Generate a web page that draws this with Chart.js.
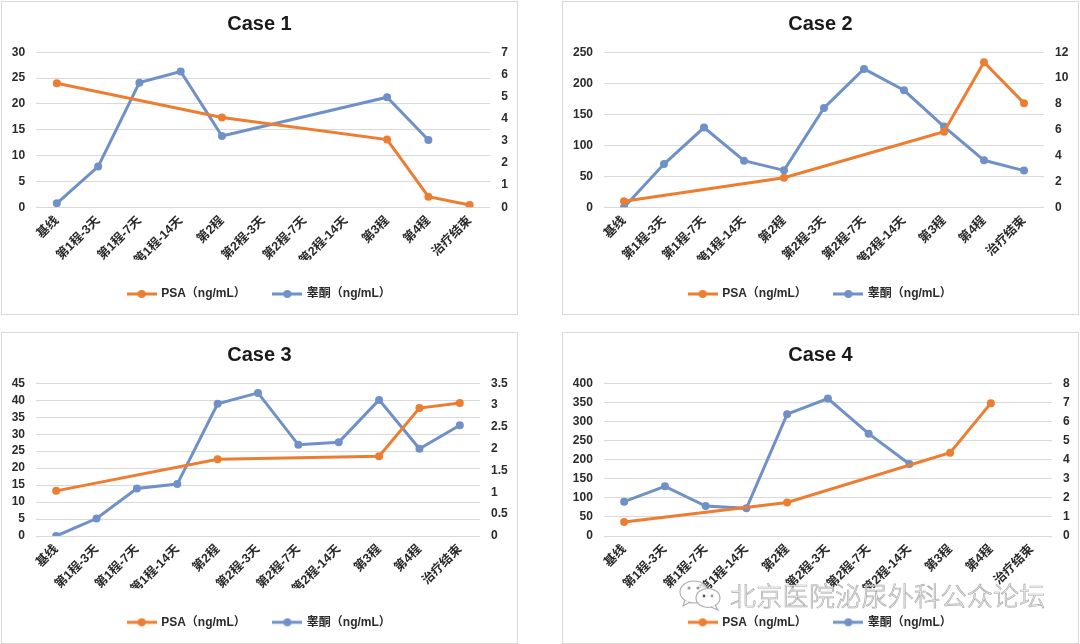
<!DOCTYPE html>
<html><head><meta charset="utf-8">
<script src="https://cdn.jsdelivr.net/npm/chart.js@4.4.0/dist/chart.umd.min.js"></script>
<style>
html,body{margin:0;padding:0;background:#fff;width:1080px;height:644px;overflow:hidden;}
.panel{position:absolute;box-sizing:border-box;border:1px solid #dcd8d8;background:#fff;}
.panel canvas{display:block;}
#wm{position:absolute;left:678px;top:578px;height:34px;white-space:nowrap;pointer-events:none;}
#wm svg{position:absolute;left:0;top:1px;}
#wm span{position:absolute;left:52px;top:0;font-family:"Noto Sans CJK SC",sans-serif;font-weight:300;font-size:26px;line-height:34px;color:rgba(255,255,255,0.8);-webkit-text-stroke:0.7px #aaaaaa;letter-spacing:0.3px;}
</style></head><body>
<div class="panel" style="left:1px;top:1px;width:517px;height:314px"><canvas id="c1" width="515" height="312"></canvas></div>
<div class="panel" style="left:562px;top:1px;width:517px;height:314px"><canvas id="c2" width="515" height="312"></canvas></div>
<div class="panel" style="left:1px;top:332px;width:517px;height:312px"><canvas id="c3" width="515" height="310"></canvas></div>
<div class="panel" style="left:562px;top:332px;width:517px;height:312px"><canvas id="c4" width="515" height="310"></canvas></div>
<div id="wm">
<svg width="46" height="32" viewBox="0 0 46 32">
<ellipse cx="16" cy="13" rx="14" ry="11" fill="rgba(255,255,255,0.8)" stroke="#ababab" stroke-width="1.1"/>
<path d="M7 21 L5 27 L12 23" fill="rgba(255,255,255,0.8)" stroke="#ababab" stroke-width="1.1"/>
<ellipse cx="30" cy="19" rx="12" ry="9.5" fill="rgba(255,255,255,0.85)" stroke="#ababab" stroke-width="1.1"/>
<path d="M37 26 L40 31 L33 28" fill="rgba(255,255,255,0.85)" stroke="#ababab" stroke-width="1.1"/>
<circle cx="11" cy="9" r="1.6" fill="#999"/><circle cx="20" cy="9" r="1.6" fill="#999"/>
<circle cx="26" cy="17" r="1.4" fill="#555"/><circle cx="34" cy="17" r="1.4" fill="#999"/>
</svg>
<span>北京医院泌尿外科公众论坛</span>
</div>
<script>
const categories = ['基线','第1程-3天','第1程-7天','第1程-14天','第2程','第2程-3天','第2程-7天','第2程-14天','第3程','第4程','治疗结束'];
const seriesNames = ['PSA（ng/mL）','睾酮（ng/mL）'];
const titles = ['Case 1','Case 2','Case 3','Case 4'];

const case1PSA = [24, null, null, null, 17.4, null, null, null, 13.1, 2.06, 0.45];
const case1T   = [0.18, 1.84, 5.63, 6.13, 3.22, null, null, null, 4.97, 3.04, null];
const case2PSA = [9.7, null, null, null, 47.8, null, null, null, 122, 234, 168];
const case2T   = [0, 3.35, 6.17, 3.61, 2.86, 7.69, 10.71, 9.06, 6.25, 3.64, 2.84];
const case3PSA = [13.3, null, null, null, 22.6, null, null, null, 23.5, 37.7, 39.2];
const case3T   = [0, 0.40, 1.09, 1.19, 3.03, 3.28, 2.09, 2.15, 3.12, 2.00, 2.54];
const case4PSA = [36.7, null, null, null, 88, null, null, null, 218, 348, null];
const case4T   = [1.80, 2.60, 1.57, 1.45, 6.38, 7.20, 5.36, 3.77, null, null, null];

const leftAxes  = [{max:30, step:5}, {max:250, step:50}, {max:45, step:5}, {max:400, step:50}];
const rightAxes = [{max:7, step:1}, {max:12, step:2}, {max:3.5, step:0.5}, {max:8, step:1}];

const ORANGE = '#ED7D31';
const BLUE = '#6F91C8';
const FONT = '"Liberation Sans", Arial, "Noto Sans CJK SC", sans-serif';
const TXT = '#2b2b2b';

function legendImg(color){
  const c = document.createElement('canvas');
  c.width = 30; c.height = 10;
  const g = c.getContext('2d');
  g.strokeStyle = color; g.lineWidth = 3;
  g.beginPath(); g.moveTo(0,5); g.lineTo(30,5); g.stroke();
  g.fillStyle = color; g.beginPath(); g.arc(15,5,4,0,Math.PI*2); g.fill();
  return c;
}
const legendImgs = [legendImg(ORANGE), legendImg(BLUE)];

function makeChart(id, psa, t, la, ra, lay){
  new Chart(document.getElementById(id), {
    type: 'line',
    data: {
      labels: categories,
      datasets: [
        {label: seriesNames[0], data: psa, yAxisID: 'y', borderColor: ORANGE, backgroundColor: ORANGE,
         borderWidth: 3, pointRadius: 4, pointHoverRadius: 4, pointBackgroundColor: ORANGE, pointBorderWidth: 0,
         spanGaps: true, tension: 0},
        {label: seriesNames[1], data: t, yAxisID: 'y1', borderColor: BLUE, backgroundColor: BLUE,
         borderWidth: 3, pointRadius: 4, pointHoverRadius: 4, pointBackgroundColor: BLUE, pointBorderWidth: 0,
         spanGaps: true, tension: 0}
      ]
    },
    options: {
      responsive: false, animation: false,
      layout: {padding: {left: 0, right: 0, top: 0, bottom: lay.padB}},
      plugins: {
        title: {display: true, text: lay.title, color: '#1a1a1a',
                font: {family: FONT, size: 20, weight: 'bold'}, padding: {top: 10, bottom: 16.3}},
        legend: {position: 'bottom',
          labels: {usePointStyle: true, pointStyleWidth: 27, boxHeight: 12, padding: 28, color: TXT,
                   font: {family: FONT, size: 12, weight: 'bold'},
                   generateLabels: (chart) => Chart.defaults.plugins.legend.labels.generateLabels(chart)
                     .map((it, i) => Object.assign(it, {pointStyle: legendImgs[i]}))}},
        tooltip: {enabled: false}
      },
      scales: {
        x: {offset: true, grid: {display: false, drawTicks: false}, border: {display: false},
            ticks: {autoSkip: false, minRotation: 45, maxRotation: 45, padding: 6, color: TXT,
                    font: {family: FONT, size: 12.5, weight: 'bold'}},
            afterFit: (s) => { s.height = lay.xH; }},
        y: {position: 'left', min: 0, max: la.max, grid: {color: '#d9d9d9', lineWidth: 1, drawTicks: false},
            border: {display: false},
            ticks: {stepSize: la.step, autoSkip: false, padding: 11, color: TXT, font: {family: FONT, size: 12, weight: 'bold'},
                    callback: (v) => String(v)},
            afterFit: (s) => { s.width = lay.yW; }},
        y1: {position: 'right', min: 0, max: ra.max, grid: {display: false, drawTicks: false},
             border: {display: false},
             ticks: {stepSize: ra.step, autoSkip: false, padding: 11, color: TXT, font: {family: FONT, size: 12, weight: 'bold'},
                     callback: (v) => String(v)},
             afterFit: (s) => { s.width = lay.y1W; }}
      }
    }
  });
}

makeChart('c1', case1PSA, case1T, leftAxes[0], rightAxes[0], {title: titles[0], yW: 34.2, y1W: 26.7, padB: 4, xH: 52.7});
makeChart('c2', case2PSA, case2T, leftAxes[1], rightAxes[1], {title: titles[1], yW: 41, y1W: 34, padB: 4, xH: 52.7});
makeChart('c3', case3PSA, case3T, leftAxes[2], rightAxes[2], {title: titles[2], yW: 34, y1W: 37, padB: 4.7, xH: 52.3});
makeChart('c4', case4PSA, case4T, leftAxes[3], rightAxes[3], {title: titles[3], yW: 40.8, y1W: 26, padB: 4.7, xH: 52.3});
</script>
</body></html>
